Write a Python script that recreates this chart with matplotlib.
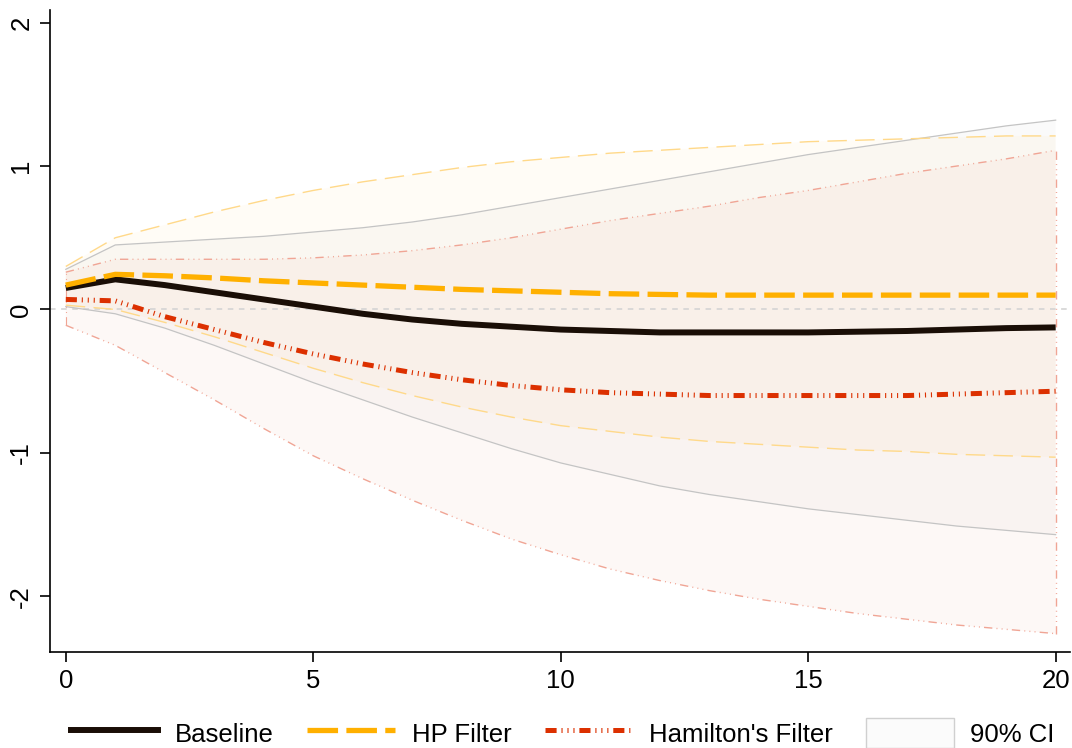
import numpy as np
import matplotlib
matplotlib.use("Agg")
import matplotlib.pyplot as plt
from matplotlib.patches import Patch
from matplotlib.lines import Line2D

plt.rcParams['font.family'] = ['Liberation Sans', 'DejaVu Sans']
plt.rcParams['lines.scale_dashes'] = False

# Horizons
horizon = list(range(21))

# Point estimates
baseline = [0.15, 0.21, 0.17, 0.12, 0.07, 0.02, -0.03, -0.07, -0.10, -0.12, -0.14,
            -0.15, -0.16, -0.16, -0.16, -0.16, -0.155, -0.15, -0.14, -0.13, -0.125]
hp_filter = [0.17, 0.245, 0.235, 0.22, 0.20, 0.185, 0.17, 0.155, 0.14, 0.13, 0.12,
             0.11, 0.105, 0.10, 0.10, 0.10, 0.10, 0.10, 0.10, 0.10, 0.10]
hamilton = [0.07, 0.06, -0.05, -0.14, -0.23, -0.31, -0.38, -0.44, -0.49, -0.53, -0.56,
            -0.58, -0.59, -0.60, -0.60, -0.60, -0.60, -0.60, -0.59, -0.58, -0.57]

# 90% confidence bands
baseline_hi = [0.28, 0.45, 0.47, 0.49, 0.51, 0.54, 0.57, 0.61, 0.66, 0.72, 0.78,
               0.84, 0.90, 0.96, 1.02, 1.08, 1.13, 1.18, 1.23, 1.28, 1.32]
baseline_lo = [0.02, -0.03, -0.13, -0.25, -0.38, -0.51, -0.63, -0.75, -0.86, -0.97, -1.07,
               -1.15, -1.23, -1.29, -1.34, -1.39, -1.43, -1.47, -1.51, -1.54, -1.57]
hp_hi = [0.30, 0.50, 0.59, 0.68, 0.76, 0.83, 0.89, 0.94, 0.99, 1.03, 1.06,
         1.09, 1.11, 1.13, 1.15, 1.17, 1.18, 1.19, 1.20, 1.21, 1.21]
hp_lo = [0.03, 0.0, -0.09, -0.19, -0.30, -0.41, -0.51, -0.60, -0.68, -0.75, -0.81,
         -0.85, -0.89, -0.92, -0.94, -0.96, -0.98, -0.99, -1.01, -1.02, -1.03]
ham_hi = [0.26, 0.35, 0.35, 0.35, 0.35, 0.36, 0.38, 0.41, 0.45, 0.50, 0.56,
          0.62, 0.67, 0.72, 0.78, 0.83, 0.89, 0.95, 1.00, 1.05, 1.11]
ham_lo = [-0.11, -0.25, -0.44, -0.63, -0.83, -1.02, -1.18, -1.33, -1.47, -1.60, -1.71,
          -1.81, -1.89, -1.96, -2.02, -2.07, -2.12, -2.16, -2.20, -2.23, -2.26]

c_base = '#1a0e06'
c_hp = '#ffb000'
c_ham = '#dc3000'

ham_dash = (0, (8, 3.5, 0.8, 3.5, 0.8, 3.5, 0.8, 3.5))
ham_ci_dash = (0, (6, 3, 0.7, 3, 0.7, 3, 0.7, 3))

fig = plt.figure(figsize=(10.72, 7.48), dpi=100)
ax = fig.add_axes([0.0466, 0.128, 0.952, 0.859])

# confidence bands
ax.fill_between(horizon, baseline_lo, baseline_hi, facecolor='#b0b0b0', alpha=0.05,
                edgecolor='none')
ax.plot(horizon, baseline_hi, color='#c4c4c4', lw=0.9)
ax.plot(horizon, baseline_lo, color='#c4c4c4', lw=0.9)

ax.fill_between(horizon, hp_lo, hp_hi, facecolor='#ffd070', alpha=0.06, edgecolor='none')
ax.plot(horizon, hp_hi, color='#ffd98a', lw=1.0, linestyle=(0, (14, 6)))
ax.plot(horizon, hp_lo, color='#ffd98a', lw=1.0, linestyle=(0, (14, 6)))

ax.fill_between(horizon, ham_lo, ham_hi, facecolor='#f0a080', alpha=0.07, edgecolor='none')
ax.plot(horizon, ham_hi, color='#f0a595', lw=1.0, linestyle=ham_ci_dash)
ax.plot(horizon, ham_lo, color='#f0a595', lw=1.0, linestyle=ham_ci_dash)
ax.plot([horizon[-1]] * 2, [ham_lo[-1], ham_hi[-1]], color='#f0a595', lw=1.0,
        linestyle=ham_ci_dash)
ax.plot([horizon[0]] * 2, [ham_lo[0], ham_hi[0]], color='#f0a595', lw=0.8,
        linestyle=ham_ci_dash)

# zero line
ax.axhline(0, color='#d4d4d4', lw=1.2, linestyle=(0, (4, 4)), zorder=1)

# point estimates
ax.plot(horizon, baseline, color=c_base, lw=4.3, solid_capstyle='butt', zorder=5)
ax.plot(horizon, hp_filter, color=c_hp, lw=3.8, linestyle=(0, (22, 6)), zorder=5)
ax.plot(horizon, hamilton, color=c_ham, lw=3.6, linestyle=ham_dash, zorder=5)

ax.set_xlim(-0.32, 20.3)
ax.set_ylim(-2.39, 2.09)
ax.set_xticks([0, 5, 10, 15, 20])
ax.set_yticks([-2, -1, 0, 1, 2])
ax.set_yticklabels(['-2', '-1', '0', '1', '2'], rotation=90, va='center')
ax.tick_params(axis='both', labelsize=18.5, length=7, width=1.2, direction='out', pad=5)
ax.spines['top'].set_visible(False)
ax.spines['right'].set_visible(False)
for s in ('left', 'bottom'):
    ax.spines[s].set_linewidth(1.2)

handles = [
    Line2D([], [], color=c_base, lw=4.3),
    Line2D([], [], color=c_hp, lw=3.8, linestyle=(0, (22, 6))),
    Line2D([], [], color=c_ham, lw=3.6, linestyle=ham_dash),
    Patch(facecolor='#fbfbfb', edgecolor='#d0d0d0', lw=1),
]
labels = ['Baseline', 'HP Filter', "Hamilton's Filter", '90% CI']
fig.legend(handles, labels, loc='center', ncol=4, frameon=False, fontsize=18.5,
           handlelength=3.4, handleheight=1.4, columnspacing=1.3, handletextpad=0.66,
           borderpad=0, bbox_to_anchor=(0.525, 0.02))

fig.savefig('out.png', dpi=100)
